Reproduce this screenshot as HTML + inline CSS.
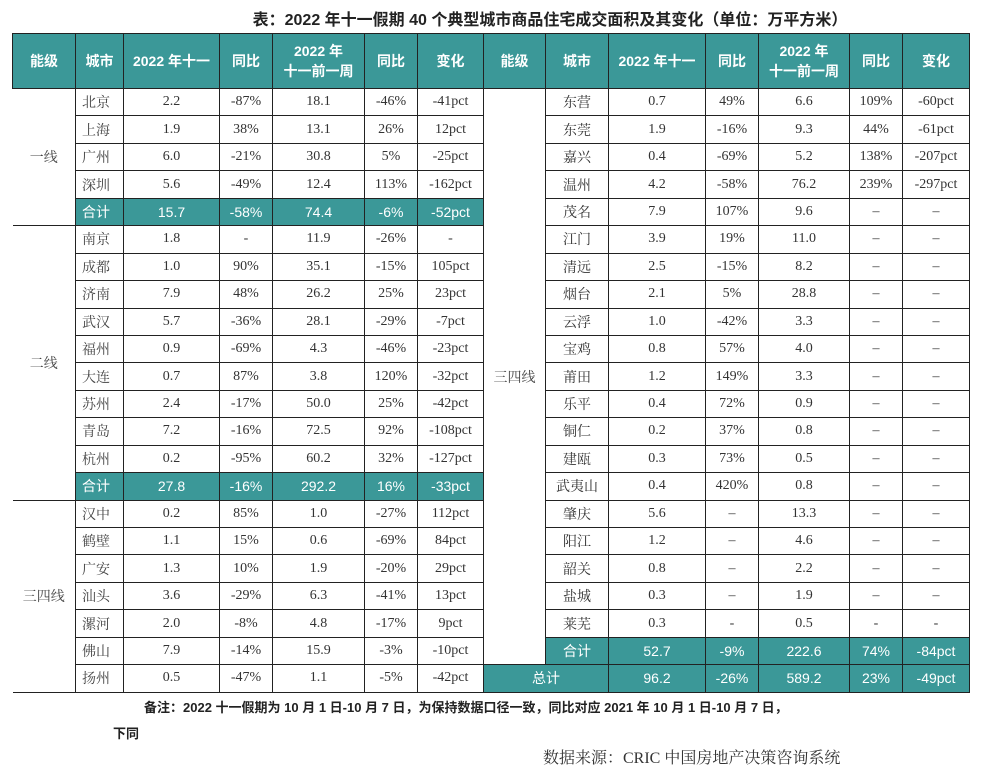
<!DOCTYPE html>
<html><head><meta charset="utf-8">
<style>
*{margin:0;padding:0;box-sizing:border-box}
body{width:982px;height:776px;background:#fff;position:relative;overflow:hidden;font-family:"Liberation Serif","Noto Serif CJK SC","Noto Sans CJK SC",serif;color:#333}
.title{position:absolute;left:190px;top:6px;width:720px;text-align:center;font:bold 16px "Liberation Sans","Noto Sans CJK SC",sans-serif;color:#222;white-space:nowrap}
table{position:absolute;left:12px;top:33px;border-collapse:collapse;table-layout:fixed;width:957px}
td,th{border:1.5px solid #222;text-align:center;font-size:14px;height:27.45px;padding:0;white-space:nowrap;overflow:hidden}
th{background:#3b9898;color:#fff;font:bold 14px "Liberation Sans","Noto Sans CJK SC",sans-serif;height:55px;line-height:20px}
.t td,td.s{background:#3b9898;color:#fff;font-family:"Liberation Sans","Noto Sans CJK SC",sans-serif;font-size:14px}
.lv{border-left:none;border-top:1.5px solid #222;color:#444}
.c{text-align:left;padding-left:6px;color:#444}
.note{position:absolute;left:144px;top:697px;font:bold 13px "Liberation Sans","Noto Sans CJK SC",sans-serif;color:#222;white-space:nowrap}
.note2{position:absolute;left:113px;top:723px;font:bold 13px "Liberation Sans","Noto Sans CJK SC",sans-serif;color:#222}
.src{position:absolute;left:543px;top:745px;font:16px "Liberation Serif","Noto Serif CJK SC",serif;color:#333}
</style></head><body>
<div class="title">表：2022 年十一假期 40 个典型城市商品住宅成交面积及其变化（单位：万平方米）</div>
<table>
<colgroup><col style="width:63px"><col style="width:48px"><col style="width:96px"><col style="width:53px"><col style="width:92px"><col style="width:53px"><col style="width:66px"><col style="width:62px"><col style="width:63px"><col style="width:97px"><col style="width:53px"><col style="width:91px"><col style="width:53px"><col style="width:67px"></colgroup>
<tr><th>能级</th><th>城市</th><th>2022 年十一</th><th>同比</th><th>2022 年<br>十一前一周</th><th>同比</th><th>变化</th><th>能级</th><th>城市</th><th>2022 年十一</th><th>同比</th><th>2022 年<br>十一前一周</th><th>同比</th><th>变化</th></tr>
<tr><td class="lv" rowspan="5">一线</td><td class="c">北京</td><td>2.2</td><td>-87%</td><td>18.1</td><td>-46%</td><td>-41pct</td><td rowspan="21" class="lv" style="border-left:1.5px solid #222">三四线</td><td>东营</td><td>0.7</td><td>49%</td><td>6.6</td><td>109%</td><td>-60pct</td></tr>
<tr><td class="c">上海</td><td>1.9</td><td>38%</td><td>13.1</td><td>26%</td><td>12pct</td><td>东莞</td><td>1.9</td><td>-16%</td><td>9.3</td><td>44%</td><td>-61pct</td></tr>
<tr><td class="c">广州</td><td>6.0</td><td>-21%</td><td>30.8</td><td>5%</td><td>-25pct</td><td>嘉兴</td><td>0.4</td><td>-69%</td><td>5.2</td><td>138%</td><td>-207pct</td></tr>
<tr><td class="c">深圳</td><td>5.6</td><td>-49%</td><td>12.4</td><td>113%</td><td>-162pct</td><td>温州</td><td>4.2</td><td>-58%</td><td>76.2</td><td>239%</td><td>-297pct</td></tr>
<tr><td class="c s">合计</td><td class="s">15.7</td><td class="s">-58%</td><td class="s">74.4</td><td class="s">-6%</td><td class="s">-52pct</td><td>茂名</td><td>7.9</td><td>107%</td><td>9.6</td><td>–</td><td>–</td></tr>
<tr><td class="lv" rowspan="10">二线</td><td class="c">南京</td><td>1.8</td><td>-</td><td>11.9</td><td>-26%</td><td>-</td><td>江门</td><td>3.9</td><td>19%</td><td>11.0</td><td>–</td><td>–</td></tr>
<tr><td class="c">成都</td><td>1.0</td><td>90%</td><td>35.1</td><td>-15%</td><td>105pct</td><td>清远</td><td>2.5</td><td>-15%</td><td>8.2</td><td>–</td><td>–</td></tr>
<tr><td class="c">济南</td><td>7.9</td><td>48%</td><td>26.2</td><td>25%</td><td>23pct</td><td>烟台</td><td>2.1</td><td>5%</td><td>28.8</td><td>–</td><td>–</td></tr>
<tr><td class="c">武汉</td><td>5.7</td><td>-36%</td><td>28.1</td><td>-29%</td><td>-7pct</td><td>云浮</td><td>1.0</td><td>-42%</td><td>3.3</td><td>–</td><td>–</td></tr>
<tr><td class="c">福州</td><td>0.9</td><td>-69%</td><td>4.3</td><td>-46%</td><td>-23pct</td><td>宝鸡</td><td>0.8</td><td>57%</td><td>4.0</td><td>–</td><td>–</td></tr>
<tr><td class="c">大连</td><td>0.7</td><td>87%</td><td>3.8</td><td>120%</td><td>-32pct</td><td>莆田</td><td>1.2</td><td>149%</td><td>3.3</td><td>–</td><td>–</td></tr>
<tr><td class="c">苏州</td><td>2.4</td><td>-17%</td><td>50.0</td><td>25%</td><td>-42pct</td><td>乐平</td><td>0.4</td><td>72%</td><td>0.9</td><td>–</td><td>–</td></tr>
<tr><td class="c">青岛</td><td>7.2</td><td>-16%</td><td>72.5</td><td>92%</td><td>-108pct</td><td>铜仁</td><td>0.2</td><td>37%</td><td>0.8</td><td>–</td><td>–</td></tr>
<tr><td class="c">杭州</td><td>0.2</td><td>-95%</td><td>60.2</td><td>32%</td><td>-127pct</td><td>建瓯</td><td>0.3</td><td>73%</td><td>0.5</td><td>–</td><td>–</td></tr>
<tr><td class="c s">合计</td><td class="s">27.8</td><td class="s">-16%</td><td class="s">292.2</td><td class="s">16%</td><td class="s">-33pct</td><td>武夷山</td><td>0.4</td><td>420%</td><td>0.8</td><td>–</td><td>–</td></tr>
<tr><td class="lv" rowspan="7">三四线</td><td class="c">汉中</td><td>0.2</td><td>85%</td><td>1.0</td><td>-27%</td><td>112pct</td><td>肇庆</td><td>5.6</td><td>–</td><td>13.3</td><td>–</td><td>–</td></tr>
<tr><td class="c">鹤壁</td><td>1.1</td><td>15%</td><td>0.6</td><td>-69%</td><td>84pct</td><td>阳江</td><td>1.2</td><td>–</td><td>4.6</td><td>–</td><td>–</td></tr>
<tr><td class="c">广安</td><td>1.3</td><td>10%</td><td>1.9</td><td>-20%</td><td>29pct</td><td>韶关</td><td>0.8</td><td>–</td><td>2.2</td><td>–</td><td>–</td></tr>
<tr><td class="c">汕头</td><td>3.6</td><td>-29%</td><td>6.3</td><td>-41%</td><td>13pct</td><td>盐城</td><td>0.3</td><td>–</td><td>1.9</td><td>–</td><td>–</td></tr>
<tr><td class="c">漯河</td><td>2.0</td><td>-8%</td><td>4.8</td><td>-17%</td><td>9pct</td><td>莱芜</td><td>0.3</td><td>-</td><td>0.5</td><td>-</td><td>-</td></tr>
<tr><td class="c">佛山</td><td>7.9</td><td>-14%</td><td>15.9</td><td>-3%</td><td>-10pct</td><td class="s">合计</td><td class="s">52.7</td><td class="s">-9%</td><td class="s">222.6</td><td class="s">74%</td><td class="s">-84pct</td></tr>
<tr><td class="c">扬州</td><td>0.5</td><td>-47%</td><td>1.1</td><td>-5%</td><td>-42pct</td><td colspan="2" class="s">总计</td><td class="s">96.2</td><td class="s">-26%</td><td class="s">589.2</td><td class="s">23%</td><td class="s">-49pct</td></tr>
</table>
<div class="note">备注：2022 十一假期为 10 月 1 日-10 月 7 日，为保持数据口径一致，同比对应 2021 年 10 月 1 日-10 月 7 日，</div>
<div class="note2">下同</div>
<div class="src">数据来源：CRIC 中国房地产决策咨询系统</div>
</body></html>
